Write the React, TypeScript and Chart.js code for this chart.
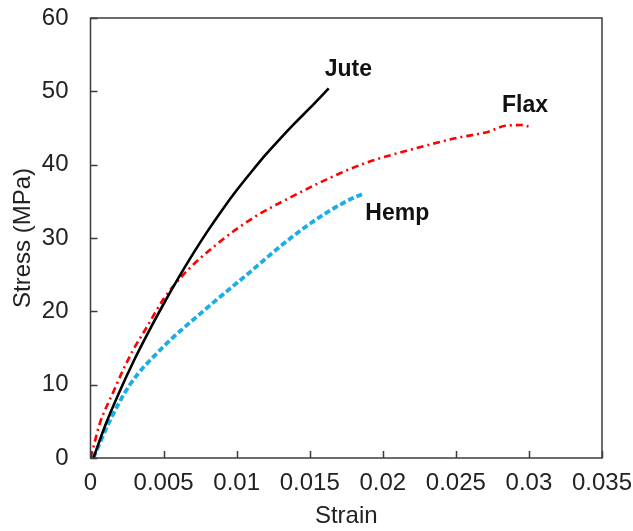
import { useEffect, useRef } from 'react';
import { Chart, registerables } from 'chart.js';

Chart.register(...registerables);

const juteStrain = [0.0002, 0.001, 0.002, 0.003, 0.004, 0.005, 0.006, 0.007, 0.008, 0.009, 0.01, 0.011, 0.012, 0.013, 0.014, 0.015, 0.0163];
const juteStress = [0, 4.4, 9.1, 13.4, 17.3, 21.0, 24.5, 27.8, 30.9, 33.8, 36.5, 39.0, 41.4, 43.6, 45.7, 47.7, 50.4];

const flaxStrain = [0, 0.0002, 0.00065, 0.00154, 0.00223, 0.00291, 0.00387, 0.00497, 0.00645, 0.00873, 0.01125, 0.01375, 0.01627, 0.01878, 0.0222, 0.02495, 0.02723, 0.02837, 0.0295, 0.02997];
const flaxStress = [0, 1.5, 4.8, 8.9, 12.0, 14.7, 17.9, 21.6, 25.2, 29.3, 32.9, 35.6, 38.1, 40.2, 42.2, 43.6, 44.5, 45.3, 45.4, 45.2];

const hempStrain = [0.0002, 0.0013, 0.0027, 0.0049, 0.0077, 0.0107, 0.0137, 0.0158, 0.0175, 0.0186];
const hempStress = [0, 5, 10, 15, 20, 25, 30, 33, 35, 36];

const seriesNames = ['Jute', 'Flax', 'Hemp'];
const nameStrain = [0.01764, 0.02973, 0.02099];
const nameStress = [52.9, 48.0, 33.3];

const xMin = 0;
const xMax = 0.035;
const xStep = 0.005;
const yMin = 0;
const yMax = 60;
const yStep = 10;

const FONT = '"Liberation Sans", Arial, sans-serif';

const toPoints = (xs: number[], ys: number[]) => xs.map((x, i) => ({ x, y: ys[i] }));

const framePlugin = {
  id: 'frameAndLabels',
  afterDatasetsDraw(chart: any) {
    const { ctx, chartArea, scales } = chart;
    const { left, right, top, bottom } = chartArea;
    ctx.save();
    ctx.strokeStyle = '#3c3c3c';
    ctx.lineWidth = 1.5;
    ctx.strokeRect(left, top, right - left, bottom - top);
    const tl = 7;
    ctx.beginPath();
    scales.x.ticks.forEach((t: any) => {
      const px = Math.round(scales.x.getPixelForValue(t.value)) + 0.5;
      ctx.moveTo(px, bottom);
      ctx.lineTo(px, bottom - tl);
    });
    scales.y.ticks.forEach((t: any) => {
      const py = Math.round(scales.y.getPixelForValue(t.value)) + 0.5;
      ctx.moveTo(left, py);
      ctx.lineTo(left + tl, py);
    });
    ctx.stroke();
    ctx.fillStyle = '#111';
    ctx.font = `bold 23px ${FONT}`;
    ctx.textAlign = 'center';
    ctx.textBaseline = 'middle';
    seriesNames.forEach((n, i) => {
      ctx.fillText(n, scales.x.getPixelForValue(nameStrain[i]), scales.y.getPixelForValue(nameStress[i]));
    });
    ctx.restore();
  },
};

export default function App() {
  const ref = useRef<HTMLCanvasElement | null>(null);
  useEffect(() => {
    if (!ref.current) return;
    const chart = new Chart(ref.current, {
      type: 'scatter',
      data: {
        datasets: [
          {
            label: 'Jute',
            data: toPoints(juteStrain, juteStress),
            showLine: true,
            borderColor: '#000000',
            borderWidth: 2.6,
            pointRadius: 0,
            cubicInterpolationMode: 'monotone',
          },
          {
            label: 'Flax',
            data: toPoints(flaxStrain, flaxStress),
            showLine: true,
            borderColor: '#ff0000',
            borderWidth: 2.6,
            borderDash: [7, 4, 2, 4],
            pointRadius: 0,
            cubicInterpolationMode: 'monotone',
          },
          {
            label: 'Hemp',
            data: toPoints(hempStrain, hempStress),
            showLine: true,
            borderColor: '#1aaee8',
            borderWidth: 3.8,
            borderDash: [6, 3],
            pointRadius: 0,
            cubicInterpolationMode: 'monotone',
          },
        ],
      },
      options: {
        animation: false,
        responsive: true,
        maintainAspectRatio: false,
        layout: { padding: { left: 0, top: 18, right: 31, bottom: 0 } },
        plugins: { legend: { display: false }, tooltip: { enabled: false } },
        scales: {
          x: {
            type: 'linear',
            min: xMin,
            max: xMax,
            grid: { display: false, drawTicks: false },
            border: { display: false },
            ticks: {
              stepSize: xStep,
              padding: 11,
              color: '#222',
              font: { family: FONT, size: 24 },
              maxRotation: 0,
              autoSkip: false,
              callback: (v: any) => String(+(+v).toFixed(3)),
            },
            title: {
              display: true,
              text: 'Strain',
              color: '#222',
              font: { family: FONT, size: 24 },
              padding: { top: 0, bottom: 0 },
            },
            afterFit: (s: any) => {
              s.height = 73;
              s.paddingLeft = 0;
              s.paddingRight = 0;
            },
          },
          y: {
            type: 'linear',
            min: yMin,
            max: yMax,
            grid: { display: false, drawTicks: false },
            border: { display: false },
            ticks: {
              stepSize: yStep,
              padding: 22,
              color: '#222',
              font: { family: FONT, size: 24 },
            },
            title: {
              display: true,
              text: 'Stress (MPa)',
              color: '#222',
              font: { family: FONT, size: 24 },
              padding: { top: 8.5, bottom: 0 },
            },
            afterFit: (s: any) => {
              s.width = 90.5;
              s.paddingTop = 0;
              s.paddingBottom = 0;
            },
          },
        },
      },
      plugins: [framePlugin],
    } as any);
    return () => chart.destroy();
  }, []);
  return (
    <div style={{ position: 'fixed', left: 0, top: 0, width: 633, height: 531, background: '#fff' }}>
      <canvas ref={ref} />
    </div>
  );
}
